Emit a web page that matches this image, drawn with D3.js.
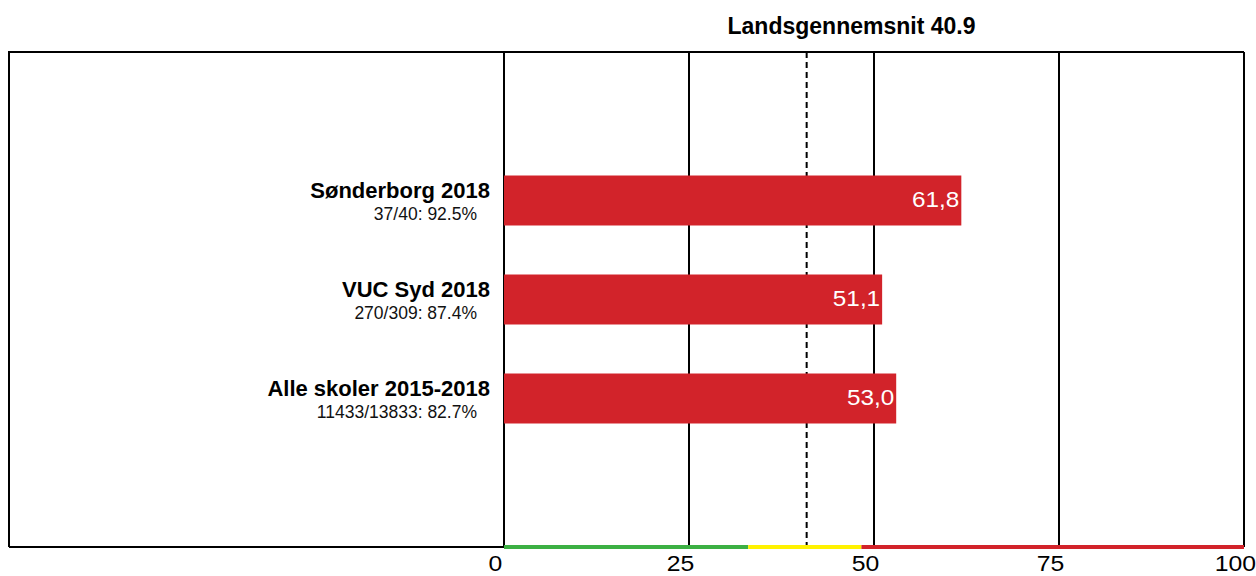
<!DOCTYPE html>
<html><head><meta charset="utf-8">
<script src="https://cdn.jsdelivr.net/npm/d3@7"></script>
<style>
html,body{margin:0;padding:0;background:#fff;}
svg{display:block;font-family:"Liberation Sans",Arial,sans-serif;}
</style></head>
<body><svg id="c" width="1256" height="576"></svg>
<script>
const categories = ["Sønderborg 2018", "VUC Syd 2018", "Alle skoler 2015-2018"];
const subtitles = ["37/40: 92.5%", "270/309: 87.4%", "11433/13833: 82.7%"];
const values = [61.8, 51.1, 53.0];
const valueLabels = ["61,8", "51,1", "53,0"];
const average = 40.9;
const averageLabel = "Landsgennemsnit 40.9";
const ticks = [0, 25, 50, 75, 100];
const zones = [{from: 0, to: 33, color: "#3cb043"}, {from: 33, to: 48.3, color: "#fff200"}, {from: 48.3, to: 100, color: "#d2232a"}];

const svg = d3.select("#c");
const L = 504, R = 1244, T = 52, B = 547, frameL = 9;
const x = d3.scaleLinear().domain([0, 100]).range([L, R]);
const y = d3.scaleBand().domain(categories).range([T, B]).paddingInner(0.495).paddingOuter(1.2475);

// frame
svg.append("path").attr("d", `M${frameL},${B} L${frameL},${T} L${R},${T}`)
  .attr("fill", "none").attr("stroke", "#000").attr("stroke-width", 2);
svg.append("line").attr("x1", frameL).attr("x2", L).attr("y1", B).attr("y2", B)
  .attr("stroke", "#000").attr("stroke-width", 2);

// grid
svg.selectAll("line.grid").data(ticks).join("line").attr("class", "grid")
  .attr("x1", d => x(d)).attr("x2", d => x(d)).attr("y1", T).attr("y2", B)
  .attr("stroke", "#000").attr("stroke-width", 2);

// average dashed line
svg.append("line").attr("x1", x(average)).attr("x2", x(average)).attr("y1", T).attr("y2", B)
  .attr("stroke", "#000").attr("stroke-width", 2).attr("stroke-dasharray", "6,4");
svg.append("text").attr("x", 851.5).attr("y", 34).attr("text-anchor", "middle")
  .attr("font-weight", "bold").attr("font-size", 23).text(averageLabel);

// bars
svg.selectAll("rect.bar").data(values).join("rect").attr("class", "bar")
  .attr("x", x(0)).attr("y", (d, i) => y(categories[i]))
  .attr("width", d => x(d) - x(0)).attr("height", y.bandwidth())
  .attr("fill", "#d2232a");
svg.selectAll("text.val").data(values).join("text").attr("class", "val")
  .attr("transform", (d, i) => `translate(${x(d) - 2},${y(categories[i]) + y.bandwidth() / 2 - 1}) scale(1.08,1)`)
  .attr("dy", "0.35em").attr("text-anchor", "end").attr("fill", "#fff")
  .attr("font-size", 22.5).text((d, i) => valueLabels[i]);

// category labels
svg.selectAll("text.cat").data(categories).join("text").attr("class", "cat")
  .attr("x", 490).attr("y", d => y(d) + 22).attr("text-anchor", "end")
  .attr("font-weight", "bold").attr("font-size", 22).text(d => d);
svg.selectAll("text.sub").data(subtitles).join("text").attr("class", "sub")
  .attr("x", 477).attr("y", (d, i) => y(categories[i]) + 44)
  .attr("text-anchor", "end").attr("fill", "#111")
  .attr("font-size", 17.5).text(d => d);

// colored axis
svg.selectAll("line.zone").data(zones).join("line").attr("class", "zone")
  .attr("x1", d => x(d.from)).attr("x2", d => x(d.to)).attr("y1", B).attr("y2", B)
  .attr("stroke", d => d.color).attr("stroke-width", 4);

// tick labels
const axis = d3.axisBottom(x).tickValues(ticks).tickSize(0).tickPadding(0);
const ag = svg.append("g").attr("transform", `translate(0,${B})`).call(axis);
ag.select(".domain").remove();
ag.selectAll("text").attr("font-size", 22.5).attr("font-family", "Liberation Sans, Arial, sans-serif")
  .attr("fill", "#000").attr("dy", null).attr("y", 24).attr("x", -8.2).attr("transform", "scale(1.1,1)");
</script></body></html>
